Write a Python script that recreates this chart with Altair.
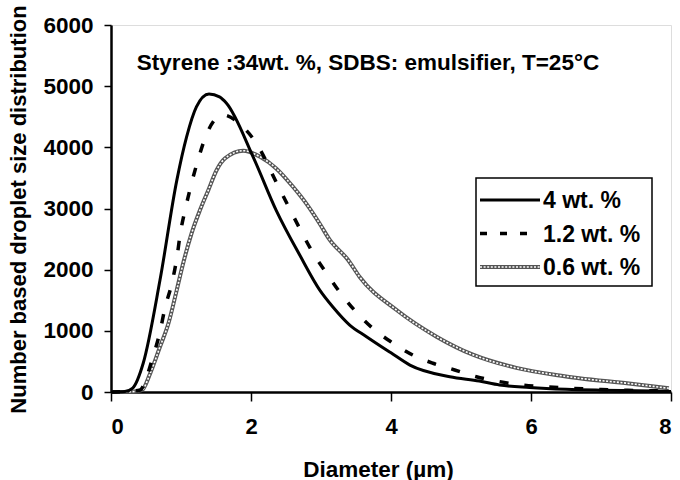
import altair as alt
import pandas as pd

series = ["4 wt. %", "1.2 wt. %", "0.6 wt. %"]

# 4 wt. % (solid)
x_4 = [0, 0.2, 0.31, 0.46, 0.70, 0.94, 1.08, 1.22, 1.40, 1.55, 1.65, 2.03, 2.36, 2.70, 2.98, 3.17,
       3.41, 3.65, 4.0, 4.27, 4.84, 5.26, 5.55, 5.98, 6.5, 7.0, 7.5, 8.0]
y_4 = [0, 10, 65, 470, 1830, 3460, 4170, 4660, 4870, 4825, 4720, 3845, 2970, 2230, 1670, 1390,
       1095, 905, 640, 440, 250, 180, 115, 75, 45, 30, 20, 10]

# 1.2 wt. % (dashed)
x_12 = [0, 0.2, 0.41, 0.60, 0.70, 0.77, 0.87, 0.94, 0.99, 1.07, 1.15, 1.25, 1.36, 1.60, 1.86, 2.08,
        2.39, 2.55, 2.72, 2.89, 3.08, 3.27, 3.50, 3.74, 4.0, 4.31, 4.60, 4.91, 5.22, 5.55, 5.86,
        6.19, 6.6, 7.0, 7.5, 8.0]
y_12 = [0, 5, 30, 580, 985, 1370, 1780, 2190, 2590, 3030, 3410, 3820, 4200, 4530, 4360, 4060,
        3360, 3000, 2620, 2265, 1940, 1630, 1310, 1040, 820, 605, 470, 360, 250, 170, 115,
        85, 60, 40, 25, 15]

# 0.6 wt. % (dotted)
x_06 = [0, 0.3, 0.44, 0.56, 0.70, 0.82, 0.94, 1.03, 1.15, 1.27, 1.39, 1.51, 1.63, 1.89, 2.13, 2.36,
        2.60, 2.79, 2.98, 3.12, 3.39, 3.55, 4.08, 4.65, 5.17, 5.79, 6.41, 6.69, 7.40, 7.97]
y_06 = [0, 5, 30, 305, 740, 1120, 1670, 2100, 2590, 2970, 3300, 3630, 3820, 3945, 3845, 3655,
        3355, 3080, 2755, 2495, 2155, 1885, 1340, 905, 610, 395, 270, 225, 140, 60]

x_ticks = [0, 2, 4, 6, 8]
y_ticks = [0, 1000, 2000, 3000, 4000, 5000, 6000]

chart_title = "Styrene :34wt. %, SDBS: emulsifier, T=25°C"

rows = []
for name, xs, ys in zip(series, [x_4, x_12, x_06], [y_4, y_12, y_06]):
    for a, b in zip(xs, ys):
        rows.append({"s": name, "d": a, "v": b})
df = pd.DataFrame(rows)
leg_df = pd.DataFrame({"s": series})

FONT = "Liberation Sans"

xenc = alt.X("d:Q", scale=alt.Scale(domain=[0, 8], nice=False),
             axis=alt.Axis(values=x_ticks, format="d", title="Diameter (µm)",
                           grid=False, domainColor="black", domainWidth=2.5,
                           tickColor="black", tickWidth=1.5, tickSize=9,
                           labelFont=FONT, labelFontSize=22, labelFontWeight="bold",
                           labelColor="black", labelPadding=15,
                           titleFont=FONT, titleFontSize=22.5, titleFontWeight="bold",
                           titleColor="black", titleX=267, titleY=84,
                           titleAlign="center", titleBaseline="alphabetic"))
yenc = alt.Y("v:Q", scale=alt.Scale(domain=[0, 6000], nice=False),
             axis=alt.Axis(values=y_ticks, format="d",
                           title="Number based droplet size distribution",
                           grid=False, domainColor="black", domainWidth=2.5,
                           tickColor="black", tickWidth=1.5, tickSize=7,
                           labelFont=FONT, labelFontSize=22.5, labelFontWeight="bold",
                           labelColor="black", labelPadding=11,
                           titleFont=FONT, titleFontSize=22, titleFontWeight="bold",
                           titleColor="black", titleX=-93, titleY=184, titleAngle=270,
                           titleAlign="center", titleBaseline="middle"))

base = alt.Chart(df)


def sel(name):
    return base.transform_filter(alt.datum.s == name)


solid = sel(series[0]).mark_line(color="black", strokeWidth=3, interpolate="monotone").encode(x=xenc, y=yenc)
dashed = sel(series[1]).mark_line(color="black", strokeWidth=3.5, strokeDash=[9, 16],
                                  interpolate="monotone").encode(x=xenc, y=yenc)
dot_a = sel(series[2]).mark_line(color="#555555", strokeWidth=4, interpolate="monotone").encode(x=xenc, y=yenc)
dot_b = sel(series[2]).mark_line(color="white", strokeWidth=1.6, strokeDash=[2, 1.6],
                                 interpolate="monotone").encode(x=xenc, y=yenc)

title_txt = alt.Chart(leg_df.head(1)).mark_text(
    text=chart_title, font=FONT, fontSize=22.5, fontWeight="bold", color="black",
    align="center", baseline="alphabetic").encode(x=alt.value(257), y=alt.value(45))

legbox = alt.Chart(leg_df.head(1)).mark_rect(fill="white", stroke="black", strokeWidth=1.5).encode(
    x=alt.value(365), x2=alt.value(541), y=alt.value(153), y2=alt.value(261))

leg_layers = [legbox]
styles = [
    [dict(color="black", strokeWidth=3)],
    [dict(color="black", strokeWidth=3.5, strokeDash=[7, 13])],
    [dict(color="#555555", strokeWidth=4), dict(color="white", strokeWidth=1.6, strokeDash=[2, 1.6])],
]
for i, name in enumerate(series):
    yy = 175 + i * 33.5
    ld = alt.Chart(leg_df).transform_filter(alt.datum.s == name)
    for st in styles[i]:
        leg_layers.append(ld.mark_rule(**st).encode(x=alt.value(369), x2=alt.value(429), y=alt.value(yy)))
    leg_layers.append(ld.mark_text(font=FONT, fontSize=23, fontWeight="bold", color="black",
                                   align="left", baseline="middle").encode(
        text="s:N", x=alt.value(432), y=alt.value(yy + 1)))

chart = alt.layer(dot_a, dot_b, dashed, solid, title_txt, *leg_layers).properties(
    width=560, height=367,
    autosize=alt.AutoSizeParams(type="none"),
    padding={"left": 111, "top": 25, "right": 9, "bottom": 88},
).configure_view(stroke="black", strokeWidth=2.5).configure(background="white")

chart.save("out.html", embed_options={"renderer": "svg", "actions": False})
